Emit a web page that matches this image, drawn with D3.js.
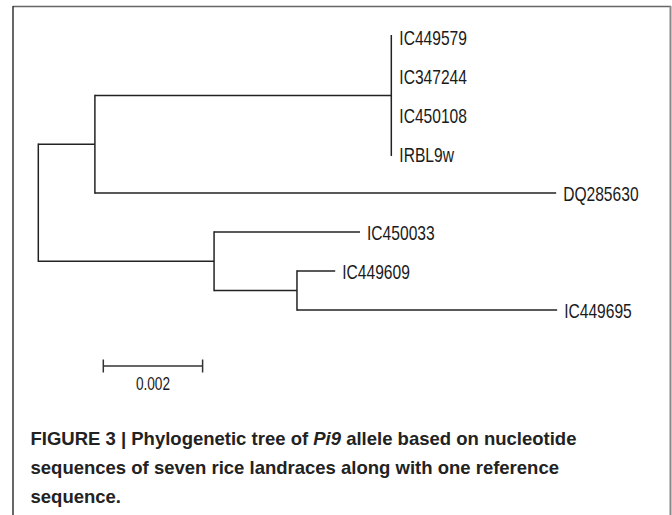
<!DOCTYPE html>
<html>
<head>
<meta charset="utf-8">
<script src="https://cdn.jsdelivr.net/npm/d3@7"></script>
<style>
  html, body { margin: 0; padding: 0; background: #fff; }
  svg { display: block; }
  .lbl { font-family: "Liberation Sans", Arial, Helvetica, sans-serif; fill: #1a1a1a; }
  .cap { font-family: "Liberation Sans", Arial, Helvetica, sans-serif; font-weight: bold; fill: #222; font-size: 18.5px; }
</style>
</head>
<body>
<svg id="chart" width="672" height="515"></svg>
<script>
// ---- data ----
const nodeIds       = ["root", "A", "B", "IC449579", "IC347244", "IC450108", "IRBL9w", "DQ285630", "C", "IC450033", "D", "IC449609", "IC449695"];
const parentIds     = ["",     "root", "A", "B",      "B",        "B",        "B",      "A",        "root", "C",      "C", "D",        "D"];
const branchLengths = [0,      0.00114, 0.00597, 0, 0, 0, 0, 0.00929, 0.00354, 0.00294, 0.00167, 0.00077, 0.00524];
const leafOrder     = ["IC449579", "IC347244", "IC450108", "IRBL9w", "DQ285630", "IC450033", "IC449609", "IC449695"];
const scaleBarValue = 0.002;
const scaleBarLabel = "0.002";
const captionLines  = [
  [{t: "FIGURE 3 | Phylogenetic tree of "}, {t: "Pi9", i: true}, {t: " allele based on nucleotide"}],
  [{t: "sequences of seven rice landraces along with one reference"}],
  [{t: "sequence."}]
];

// ---- build ----
const svg = d3.select("#chart");
const table = nodeIds.map((id, k) => ({id, parent: parentIds[k] || null, len: branchLengths[k]}));
const root = d3.stratify().id(d => d.id).parentId(d => d.parent)(table);
root.each(n => { n.dist = (n.parent ? n.parent.dist : 0) + n.data.len; });

const x = d3.scaleLinear().domain([0, 0.01]).range([38.3, 38.3 + 496.5]);
const y = d3.scalePoint().domain(leafOrder).range([37, 310]);
const condense = 0.78;

root.eachAfter(n => {
  if (!n.children) n.yy = y(n.id);
  else {
    const ys = n.children.map(c => c.yy);
    n.yy = (d3.min(ys) + d3.max(ys)) / 2;
  }
});

// frame
svg.append("line").attr("x1", 13).attr("y1", 6.5).attr("x2", 671).attr("y2", 6.5)
  .attr("stroke", "#666").attr("stroke-width", 1.5);
svg.append("line").attr("x1", 13).attr("y1", 6).attr("x2", 13).attr("y2", 515)
  .attr("stroke", "#333").attr("stroke-width", 1.5);
svg.append("line").attr("x1", 670.5).attr("y1", 6).attr("x2", 670.5).attr("y2", 515)
  .attr("stroke", "#888").attr("stroke-width", 2);

const g = svg.append("g").attr("stroke", "#222").attr("stroke-width", 1.5).attr("fill", "none");

root.descendants().filter(n => n.parent).forEach(n => {
  if (n.data.len > 0) {
    g.append("line")
      .attr("x1", x(n.parent.dist)).attr("x2", x(n.dist))
      .attr("y1", n.yy).attr("y2", n.yy);
  }
});
root.descendants().filter(n => n.children).forEach(n => {
  const ys = n.children.map(c => c.yy);
  const ext = n.children.every(c => c.data.len === 0) ? 2 : 0.75;
  g.append("line")
    .attr("x1", x(n.dist)).attr("x2", x(n.dist))
    .attr("y1", d3.min(ys) - ext).attr("y2", d3.max(ys) + ext);
});

root.leaves().forEach(n => {
  const tx = x(n.dist) + (n.data.len === 0 ? 8 : 7);
  svg.append("text").attr("class", "lbl")
    .attr("transform", `translate(${tx},${n.yy + 7.5}) scale(${condense},1)`)
    .attr("font-size", 20)
    .text(n.id);
});

// scale bar
const sbX0 = 103.3, sbY = 366;
const sbLen = x(scaleBarValue) - x(0);
const sb = svg.append("g").attr("stroke", "#333").attr("stroke-width", 1.5);
sb.append("line").attr("x1", sbX0).attr("x2", sbX0 + sbLen).attr("y1", sbY).attr("y2", sbY);
sb.append("line").attr("x1", sbX0).attr("x2", sbX0).attr("y1", sbY - 6.5).attr("y2", sbY + 6.5);
sb.append("line").attr("x1", sbX0 + sbLen).attr("x2", sbX0 + sbLen).attr("y1", sbY - 6.5).attr("y2", sbY + 6.5);
svg.append("text").attr("class", "lbl")
  .attr("transform", `translate(${sbX0 + sbLen / 2},390) scale(${condense},1)`)
  .attr("text-anchor", "middle").attr("font-size", 17.5).text(scaleBarLabel);

// caption
captionLines.forEach((parts, k) => {
  const t = svg.append("text").attr("class", "cap").attr("x", 30.5).attr("y", 445 + k * 29);
  parts.forEach(p => {
    const s = t.append("tspan").text(p.t);
    if (p.i) s.attr("font-style", "italic");
  });
});
</script>
</body>
</html>
